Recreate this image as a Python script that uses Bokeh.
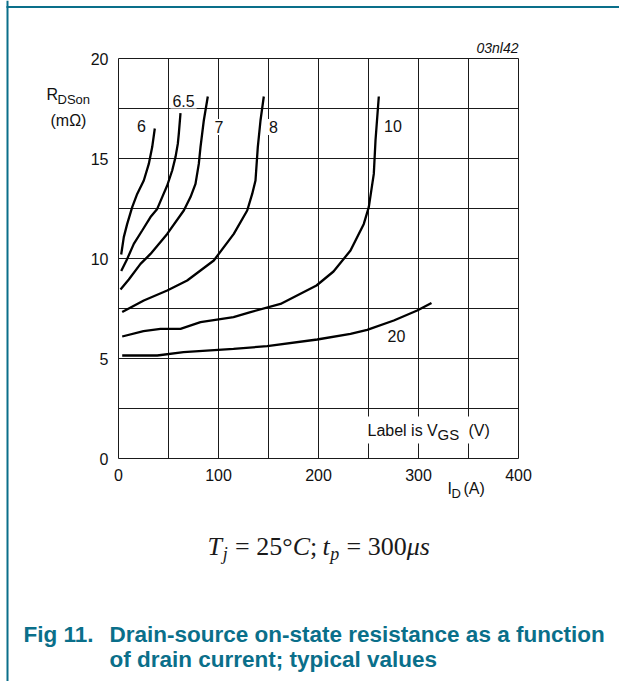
from bokeh.plotting import figure
from bokeh.models import Range1d, FixedTicker, Label, BoxAnnotation, Arrow, Span, Grid
from bokeh.embed import file_html
from bokeh.resources import INLINE

# ---------------- data ----------------
x_ticks = [0, 100, 200, 300, 400]
y_ticks = [0, 5, 10, 15, 20]
x_grid = [0, 50, 100, 150, 200, 250, 300, 350, 400]
y_grid = [0, 2.5, 5, 7.5, 10, 12.5, 15, 17.5, 20]

vgs6_i = [2.7, 5.3, 8.7, 13.7, 18.7, 25.3, 30.3, 33.7, 36.3]
vgs6_r = [10.2, 11.07, 11.73, 12.57, 13.23, 13.9, 14.73, 15.57, 16.5]

vgs65_i = [2.7, 8.7, 15.3, 23.7, 32, 38.7, 43.7, 48.7, 53.7, 57, 59.3, 60.3, 62]
vgs65_r = [9.37, 9.98, 10.73, 11.4, 12.07, 12.48, 13.07, 13.65, 14.4, 15.07, 15.73, 16.23, 17.27]

vgs7_i = [2, 10.3, 22, 32, 48.7, 65.3, 72, 77, 80.3, 82, 85.3, 89.3]
vgs7_r = [8.45, 8.95, 9.73, 10.23, 11.23, 12.4, 13.07, 13.73, 14.73, 15.57, 16.9, 18.1]

vgs8_i = [3.7, 25.3, 48.7, 68.7, 95.3, 115.3, 128.7, 133.7, 137, 139.3, 142, 145.3]
vgs8_r = [7.32, 7.9, 8.4, 8.9, 9.9, 11.23, 12.4, 13.23, 13.9, 15.57, 16.9, 18.1]

vgs10_i = [3.7, 25, 42, 62, 82, 115, 132, 162, 198, 215, 232, 245.3, 250.3, 255.3, 257, 260.3]
vgs10_r = [6.1, 6.37, 6.48, 6.48, 6.82, 7.07, 7.32, 7.73, 8.65, 9.35, 10.4, 11.73, 12.57, 14.23, 15.9, 18.1]

vgs20_i = [3.7, 38.7, 65, 115, 148.7, 198.7, 232, 248.7, 275.3, 298.7, 313]
vgs20_r = [5.15, 5.15, 5.32, 5.48, 5.62, 5.95, 6.23, 6.43, 6.9, 7.4, 7.78]

curves = [(vgs6_i, vgs6_r), (vgs65_i, vgs65_r), (vgs7_i, vgs7_r),
          (vgs8_i, vgs8_r), (vgs10_i, vgs10_r), (vgs20_i, vgs20_r)]

curve_labels = ["6", "6.5", "7", "8", "10", "20"]
label_pos_i = [23, 65, 100.5, 155, 274.5, 278]
label_pos_r = [16.35, 17.62, 16.3, 16.3, 16.33, 5.83]

SANS = "Liberation Sans"
SERIF = "Liberation Serif"
TEAL = "#0a6f8a"
INK = "#111111"

W, H = 619, 681
X0_PX, Y0_PX = 118, 458      # pixel position of (0 A, 0 mOhm)
PX_PER_A, PX_PER_R = 1.0, 20.0
BASE_SHIFT = 0.35            # empirical baseline correction (em)

p = figure(width=W, height=H,
           min_border_left=0, min_border_right=0,
           min_border_top=0, min_border_bottom=0,
           x_range=Range1d(-X0_PX / PX_PER_A, (W - X0_PX) / PX_PER_A),
           y_range=Range1d(-(H - Y0_PX) / PX_PER_R, Y0_PX / PX_PER_R),
           output_backend="svg", toolbar_location=None)

p.background_fill_color = "white"
p.border_fill_color = "white"
p.outline_line_color = None

p.xaxis.fixed_location = 0
p.xaxis.bounds = (0, 400)
p.yaxis.fixed_location = 0
p.yaxis.bounds = (0, 20)
for ax, t in ((p.xaxis, x_ticks), (p.yaxis, y_ticks)):
    ax.ticker = FixedTicker(ticks=t)
    ax.major_tick_out = 0
    ax.major_tick_in = 0
    ax.minor_tick_out = 0
    ax.minor_tick_in = 0
    ax.axis_line_color = None
    ax.major_label_text_font = SANS
    ax.major_label_text_font_size = "16px"
    ax.major_label_text_color = INK
    ax.major_label_standoff = 10

if "cross_bounds" in Grid.properties():
    p.xgrid.ticker = FixedTicker(ticks=x_grid)
    p.ygrid.ticker = FixedTicker(ticks=y_grid)
    p.xgrid.bounds = (0, 400)
    p.xgrid.cross_bounds = (0, 20)
    p.ygrid.bounds = (0, 20)
    p.ygrid.cross_bounds = (0, 400)
    for g in (p.xgrid, p.ygrid):
        g.grid_line_color = "#1a1a1a"
        g.grid_line_width = 1
        g.grid_line_alpha = 1.0
else:
    p.grid.visible = False
    p.segment(x0=x_grid, y0=[y_grid[0]] * len(x_grid), x1=x_grid,
              y1=[y_grid[-1]] * len(x_grid), line_color="#1a1a1a", line_width=1)
    p.segment(x0=[x_grid[0]] * len(y_grid), y0=y_grid, x1=[x_grid[-1]] * len(y_grid),
              y1=y_grid, line_color="#1a1a1a", line_width=1)

for xi, yi in curves:
    p.line(xi, yi, line_color="black", line_width=2.3)

for txt, xi, yi in zip(curve_labels, label_pos_i, label_pos_r):
    p.add_layout(Label(x=xi, y=yi + BASE_SHIFT * 16 / PX_PER_R, text=txt,
                       text_align="center", text_baseline="alphabetic",
                       text_font=SANS, text_font_size="16px", text_color=INK,
                       background_fill_color="white", padding=2))


def px_label(text, px, py, size=16, font=SANS, style="normal",
             color=INK, align="left"):
    """Label placed by page pixel (x, baseline y)."""
    py = py - BASE_SHIFT * size
    p.add_layout(Label(x=(px - X0_PX) / PX_PER_A, y=(Y0_PX - py) / PX_PER_R,
                       text=text, text_font=font, text_font_style=style,
                       text_font_size=f"{size}px", text_color=color,
                       text_align=align, text_baseline="alphabetic"))


# "Label is VGS (V)" box
p.add_layout(BoxAnnotation(left=246, right=376, bottom=0.75, top=2.1,
                           fill_color="white", fill_alpha=1.0, line_color=None))
px_label("Label is V", 367, 436)
px_label("GS", 437, 439.5, size=15)
px_label("(V)", 468, 436)

# axis titles
px_label("R", 46, 100)
px_label("DSon", 57, 104, size=13)
px_label("(mΩ)", 50, 126)
px_label("I", 447, 494)
px_label("D", 451, 498, size=13)
px_label("(A)", 463, 494)
px_label("03nl42", 518, 52, size=14, style="italic", align="right")

# condition formula  T_j = 25°C; t_p = 300µs  (laid out with Times metrics)
F = 26
SUB = 0.7
adv = {"T": .556, "j": .278, "=": .564, "25°": 1.4, "C": .667, ";": .278,
       "t": .278, "p": .5, "300": 1.5, "μs": .965}
runs = [("T", "italic", 1, 0, 0.03), ("j", "italic", SUB, 5, 0.28),
        ("=", "normal", 1, 0, 0.25), ("25°", "normal", 1, 0, 0),
        ("C", "italic", 1, 0, 0), (";", "normal", 1, 0, 0.2),
        ("t", "italic", 1, 0, 0.02), ("p", "italic", SUB, 5, 0.28),
        ("=", "normal", 1, 0, 0.25), ("300", "normal", 1, 0, 0),
        ("μs", "italic", 1, 0, 0)]
fx = 207.0
for txt, st, scale, dy, gap in runs:
    size = round(F * scale)
    px_label(txt, fx, 555 + dy, size=size, font=SERIF, style=st, color="#1a1a1a")
    fx += adv[txt] * F * scale + gap * F

# caption
px_label("Fig 11.", 23, 641.5, size=22.5, style="bold", color=TEAL)
px_label("Drain-source on-state resistance as a function", 109, 641.5,
         size=22.5, style="bold", color=TEAL)
px_label("of drain current; typical values", 109, 666.5,
         size=22.5, style="bold", color=TEAL)

# page frame lines
p.add_layout(Span(location=(7 - X0_PX) / PX_PER_A, dimension="height",
                  line_color=TEAL, line_width=2))
p.add_layout(Arrow(end=None, x_start=(6 - X0_PX) / PX_PER_A,
                   x_end=(W - X0_PX) / PX_PER_A,
                   y_start=(Y0_PX - 6.5) / PX_PER_R, y_end=(Y0_PX - 6.5) / PX_PER_R,
                   line_color=TEAL, line_width=2))

open("out.html", "w").write(file_html(p, INLINE))
